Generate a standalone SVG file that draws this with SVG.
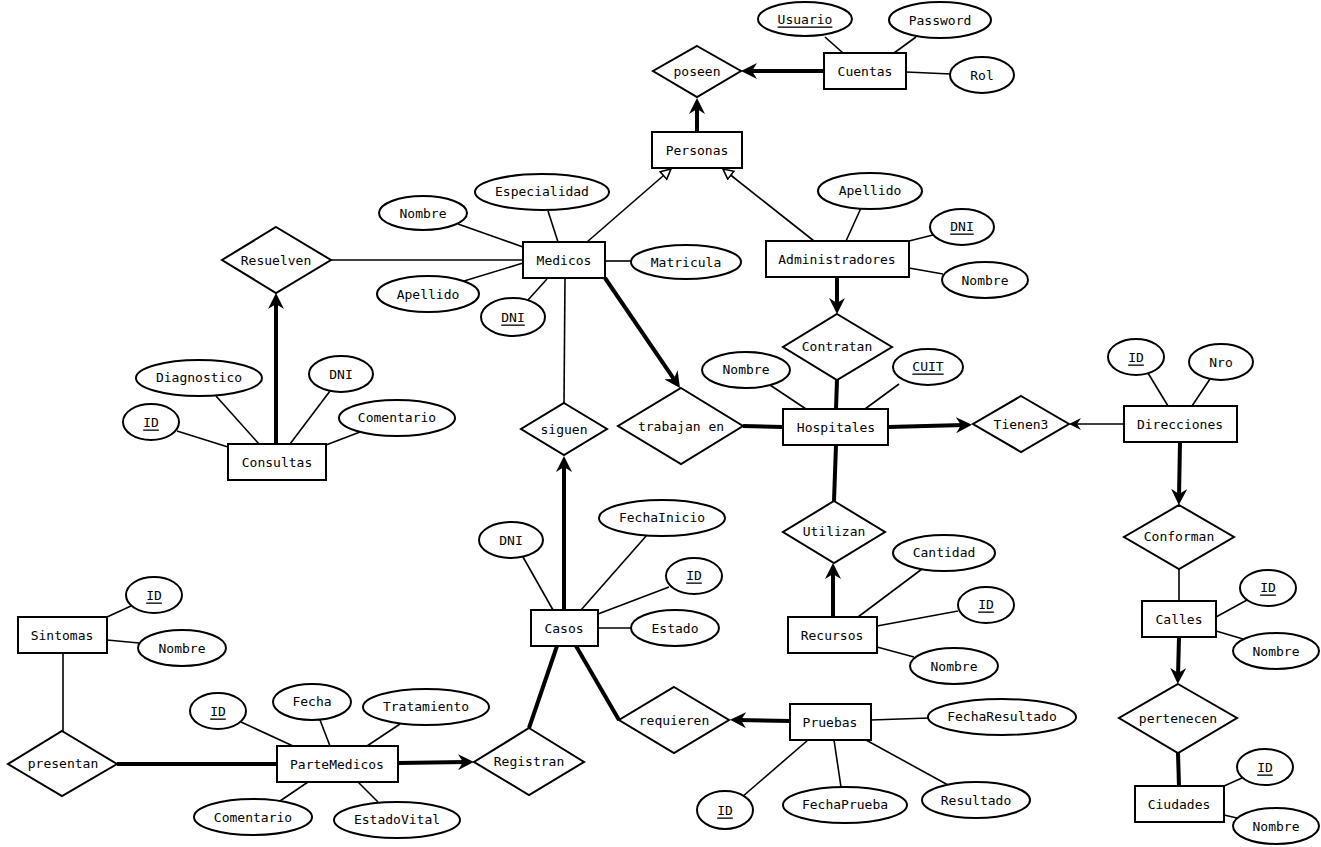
<svg xmlns="http://www.w3.org/2000/svg" width="1321" height="847" viewBox="0 0 1321 847">
<style>
text{font-family:"DejaVu Sans Mono",monospace;font-size:13px;text-anchor:middle;dominant-baseline:central;fill:#000}
.key{text-decoration:underline}
rect,ellipse,polygon.rel{fill:#fff;stroke:#000;stroke-width:2}
.thin{stroke:#000;stroke-width:1.6;fill:none}
.thick{stroke:#000;stroke-width:4;fill:none}
</style>
<defs>
<marker id="arr" markerUnits="userSpaceOnUse" markerWidth="16" markerHeight="16" viewBox="0 0 16 16" refX="8" refY="8" orient="auto"><path d="M0,0 L16,8 L0,16 L5,8 z" fill="#000"/></marker>
<marker id="arrs" markerUnits="userSpaceOnUse" markerWidth="12" markerHeight="12" viewBox="0 0 12 12" refX="6" refY="6" orient="auto"><path d="M0,0 L12,6 L0,12 L4,6 z" fill="#000"/></marker>
<marker id="inh" markerUnits="userSpaceOnUse" markerWidth="12" markerHeight="12" viewBox="0 0 12 12" refX="11" refY="6" orient="auto"><path d="M1,1 L11,6 L1,11 z" fill="#fff" stroke="#000" stroke-width="1.6"/></marker>
</defs>
<g id="connectors">
<!-- attribute lines -->
<line class="thin" x1="825" y1="37" x2="843" y2="53"/>
<line class="thin" x1="916" y1="37" x2="894" y2="53"/>
<line class="thin" x1="906" y1="72" x2="951" y2="74"/>
<line class="thin" x1="548" y1="211" x2="558" y2="242"/>
<line class="thin" x1="458" y1="224" x2="523" y2="247"/>
<line class="thin" x1="464" y1="281" x2="523" y2="263"/>
<line class="thin" x1="528" y1="300" x2="547" y2="279"/>
<line class="thin" x1="605" y1="261" x2="632" y2="261"/>
<line class="thin" x1="861" y1="208" x2="846" y2="241"/>
<line class="thin" x1="909" y1="241" x2="933" y2="235"/>
<line class="thin" x1="909" y1="268" x2="943" y2="274"/>
<line class="thin" x1="770" y1="385" x2="806" y2="409"/>
<line class="thin" x1="899" y1="384" x2="865" y2="409"/>
<line class="thin" x1="1148" y1="373" x2="1168" y2="406"/>
<line class="thin" x1="1210" y1="379" x2="1192" y2="406"/>
<line class="thin" x1="1216" y1="617" x2="1247" y2="600"/>
<line class="thin" x1="1216" y1="631" x2="1243" y2="639"/>
<line class="thin" x1="1224" y1="786" x2="1242" y2="778"/>
<line class="thin" x1="1224" y1="815" x2="1237" y2="818"/>
<line class="thin" x1="922" y1="569" x2="858" y2="617"/>
<line class="thin" x1="877" y1="626" x2="958" y2="611"/>
<line class="thin" x1="877" y1="647" x2="914" y2="657"/>
<line class="thin" x1="523" y1="557" x2="553" y2="610"/>
<line class="thin" x1="647" y1="535" x2="581" y2="610"/>
<line class="thin" x1="669" y1="587" x2="598" y2="614"/>
<line class="thin" x1="596" y1="628" x2="631" y2="628"/>
<line class="thin" x1="871" y1="720" x2="929" y2="718"/>
<line class="thin" x1="742" y1="797" x2="808" y2="740"/>
<line class="thin" x1="841" y1="787" x2="834" y2="740"/>
<line class="thin" x1="948" y1="785" x2="866" y2="740"/>
<line class="thin" x1="107" y1="617" x2="131" y2="606"/>
<line class="thin" x1="107" y1="640" x2="139" y2="643"/>
<line class="thin" x1="241" y1="722" x2="293" y2="746"/>
<line class="thin" x1="320" y1="720" x2="330" y2="746"/>
<line class="thin" x1="400" y1="724" x2="367" y2="746"/>
<line class="thin" x1="280" y1="801" x2="308" y2="782"/>
<line class="thin" x1="378" y1="802" x2="358" y2="782"/>
<line class="thin" x1="216" y1="396" x2="259" y2="444"/>
<line class="thin" x1="330" y1="391" x2="290" y2="444"/>
<line class="thin" x1="177" y1="431" x2="228" y2="447"/>
<line class="thin" x1="360" y1="432" x2="326" y2="445"/>
<!-- relationship lines -->
<line class="thin" x1="331" y1="260" x2="523" y2="260"/>
<line class="thin" x1="565" y1="278" x2="564" y2="403"/>
<line class="thin" x1="63" y1="653" x2="63" y2="731"/>
<line class="thin" x1="1179" y1="569" x2="1179" y2="601"/>
<line class="thin" x1="587" y1="242" x2="671" y2="169" marker-end="url(#inh)"/>
<line class="thin" x1="814" y1="241" x2="723" y2="169" marker-end="url(#inh)"/>
<line class="thin" x1="1124" y1="424" x2="1075" y2="424" marker-end="url(#arrs)"/>
<line class="thick" x1="837" y1="380" x2="836" y2="409"/>
<line class="thick" x1="783" y1="427" x2="743" y2="426"/>
<line class="thick" x1="836" y1="445" x2="834" y2="501"/>
<line class="thick" x1="1178" y1="753" x2="1179" y2="786"/>
<line class="thick" x1="557" y1="646" x2="529" y2="728"/>
<line class="thick" x1="576" y1="646" x2="619" y2="720"/>
<line class="thick" x1="117" y1="764" x2="277" y2="764"/>
<line class="thick" x1="824" y1="71" x2="749" y2="71" marker-end="url(#arr)"/>
<line class="thick" x1="697" y1="132" x2="697" y2="106" marker-end="url(#arr)"/>
<line class="thick" x1="276" y1="444" x2="276" y2="301" marker-end="url(#arr)"/>
<line class="thick" x1="605" y1="278" x2="675.5" y2="381.4" marker-end="url(#arr)"/>
<line class="thick" x1="837" y1="277" x2="837" y2="306" marker-end="url(#arr)"/>
<line class="thick" x1="888" y1="427" x2="964" y2="425" marker-end="url(#arr)"/>
<line class="thick" x1="1180" y1="442" x2="1179" y2="497" marker-end="url(#arr)"/>
<line class="thick" x1="1179" y1="637" x2="1178" y2="676" marker-end="url(#arr)"/>
<line class="thick" x1="833" y1="617" x2="833" y2="571" marker-end="url(#arr)"/>
<line class="thick" x1="564" y1="610" x2="564" y2="464" marker-end="url(#arr)"/>
<line class="thick" x1="790" y1="721" x2="738" y2="720" marker-end="url(#arr)"/>
<line class="thick" x1="398" y1="763" x2="466" y2="762" marker-end="url(#arr)"/>
</g>
<!-- entities -->
<g id="Cuentas"><rect x="824" y="53" width="82" height="36"/><text x="865" y="71">Cuentas</text></g>
<g id="Personas"><rect x="652" y="132" width="90" height="36"/><text x="697" y="150">Personas</text></g>
<g id="Medicos"><rect x="523" y="242" width="82" height="36"/><text x="564" y="260">Medicos</text></g>
<g id="Administradores"><rect x="766" y="241" width="143" height="36"/><text x="837" y="259">Administradores</text></g>
<g id="Hospitales"><rect x="783" y="409" width="105" height="36"/><text x="836" y="427">Hospitales</text></g>
<g id="Direcciones"><rect x="1124" y="406" width="113" height="36"/><text x="1180" y="424">Direcciones</text></g>
<g id="Calles"><rect x="1142" y="601" width="74" height="36"/><text x="1179" y="619">Calles</text></g>
<g id="Ciudades"><rect x="1135" y="786" width="89" height="36"/><text x="1179" y="804">Ciudades</text></g>
<g id="Consultas"><rect x="228" y="444" width="98" height="36"/><text x="277" y="462">Consultas</text></g>
<g id="Sintomas"><rect x="18" y="617" width="89" height="36"/><text x="62" y="635">Sintomas</text></g>
<g id="ParteMedicos"><rect x="277" y="746" width="121" height="36"/><text x="337" y="764">ParteMedicos</text></g>
<g id="Casos"><rect x="531" y="610" width="67" height="36"/><text x="564" y="628">Casos</text></g>
<g id="Recursos"><rect x="788" y="617" width="89" height="36"/><text x="832" y="635">Recursos</text></g>
<g id="Pruebas"><rect x="790" y="704" width="81" height="36"/><text x="830" y="722">Pruebas</text></g>
<!-- relationships -->
<g id="poseen"><polygon class="rel" points="697,46 741,71 697,97 653,71"/><text x="697" y="71">poseen</text></g>
<g id="Resuelven"><polygon class="rel" points="276,227 331,260 276,293 222,260"/><text x="276" y="260">Resuelven</text></g>
<g id="trabajan_en"><polygon class="rel" points="681,388 743,426 681,464 618,426"/><text x="681" y="426">trabajan en</text></g>
<g id="Contratan"><polygon class="rel" points="837,314 892,347 837,380 783,347"/><text x="837" y="346">Contratan</text></g>
<g id="Tienen3"><polygon class="rel" points="1021,396 1069,424 1021,452 973,424"/><text x="1021" y="424">Tienen3</text></g>
<g id="Conforman"><polygon class="rel" points="1179,505 1234,537 1179,569 1124,537"/><text x="1179" y="536">Conforman</text></g>
<g id="pertenecen"><polygon class="rel" points="1178,684 1237,718 1178,753 1119,718"/><text x="1178" y="718">pertenecen</text></g>
<g id="siguen"><polygon class="rel" points="564,403 607,429 564,455 521,429"/><text x="564" y="429">siguen</text></g>
<g id="Utilizan"><polygon class="rel" points="834,501 885,532 834,563 783,532"/><text x="834" y="531">Utilizan</text></g>
<g id="requieren"><polygon class="rel" points="674,687 729,720 674,753 619,720"/><text x="674" y="720">requieren</text></g>
<g id="Registran"><polygon class="rel" points="529,728 584,762 529,795 474,762"/><text x="529" y="761">Registran</text></g>
<g id="presentan"><polygon class="rel" points="62,731 117,764 62,796 8,764"/><text x="63" y="763">presentan</text></g>
<!-- attributes -->
<g id="a_Usuario"><ellipse cx="805" cy="19" rx="47" ry="17"/><text class="key" x="805" y="19">Usuario</text></g>
<g id="a_Password"><ellipse cx="940" cy="20" rx="51" ry="18"/><text x="940" y="20">Password</text></g>
<g id="a_Rol"><ellipse cx="982" cy="75" rx="32" ry="18"/><text x="982" y="75">Rol</text></g>
<g id="a_Especialidad"><ellipse cx="542" cy="192" rx="67" ry="18"/><text x="542" y="191">Especialidad</text></g>
<g id="a_NombreMed"><ellipse cx="423" cy="213" rx="44" ry="17"/><text x="423" y="213">Nombre</text></g>
<g id="a_Matricula"><ellipse cx="686" cy="262" rx="55" ry="17"/><text x="686" y="262">Matricula</text></g>
<g id="a_ApellidoMed"><ellipse cx="428" cy="294" rx="51" ry="18"/><text x="428" y="294">Apellido</text></g>
<g id="a_DNIMed"><ellipse cx="513" cy="317" rx="32" ry="19"/><text class="key" x="513" y="317">DNI</text></g>
<g id="a_Diagnostico"><ellipse cx="199" cy="378" rx="63" ry="18"/><text x="199" y="377">Diagnostico</text></g>
<g id="a_DNICons"><ellipse cx="341" cy="374" rx="32" ry="18"/><text x="341" y="374">DNI</text></g>
<g id="a_IDCons"><ellipse cx="151" cy="422" rx="28" ry="18"/><text class="key" x="151" y="422">ID</text></g>
<g id="a_ComentarioCons"><ellipse cx="397" cy="418" rx="58" ry="18"/><text x="397" y="417">Comentario</text></g>
<g id="a_ApellidoAdm"><ellipse cx="870" cy="191" rx="52" ry="18"/><text x="870" y="190">Apellido</text></g>
<g id="a_DNIAdm"><ellipse cx="962" cy="227" rx="32" ry="18"/><text class="key" x="962" y="226">DNI</text></g>
<g id="a_NombreAdm"><ellipse cx="985" cy="280" rx="43" ry="18"/><text x="985" y="280">Nombre</text></g>
<g id="a_NombreHosp"><ellipse cx="746" cy="370" rx="44" ry="18"/><text x="746" y="369">Nombre</text></g>
<g id="a_CUIT"><ellipse cx="928" cy="367" rx="35" ry="18"/><text class="key" x="928" y="366">CUIT</text></g>
<g id="a_IDDir"><ellipse cx="1136" cy="357" rx="28" ry="18"/><text class="key" x="1136" y="357">ID</text></g>
<g id="a_Nro"><ellipse cx="1221" cy="362" rx="32" ry="18"/><text x="1221" y="362">Nro</text></g>
<g id="a_IDCalles"><ellipse cx="1268" cy="588" rx="28" ry="18"/><text class="key" x="1268" y="587">ID</text></g>
<g id="a_NombreCalles"><ellipse cx="1276" cy="651" rx="43" ry="18"/><text x="1276" y="651">Nombre</text></g>
<g id="a_IDCiud"><ellipse cx="1265" cy="767" rx="28" ry="18"/><text class="key" x="1265" y="767">ID</text></g>
<g id="a_NombreCiud"><ellipse cx="1276" cy="826" rx="43" ry="18"/><text x="1276" y="826">Nombre</text></g>
<g id="a_IDSint"><ellipse cx="154" cy="595" rx="28" ry="18"/><text class="key" x="154" y="595">ID</text></g>
<g id="a_NombreSint"><ellipse cx="182" cy="648" rx="44" ry="18"/><text x="182" y="648">Nombre</text></g>
<g id="a_IDPM"><ellipse cx="218" cy="711" rx="28" ry="18"/><text class="key" x="218" y="711">ID</text></g>
<g id="a_Fecha"><ellipse cx="312" cy="702" rx="39" ry="18"/><text x="312" y="701">Fecha</text></g>
<g id="a_Tratamiento"><ellipse cx="426" cy="707" rx="63" ry="18"/><text x="426" y="706">Tratamiento</text></g>
<g id="a_ComentarioPM"><ellipse cx="253" cy="817" rx="59" ry="18"/><text x="253" y="817">Comentario</text></g>
<g id="a_EstadoVital"><ellipse cx="397" cy="820" rx="63" ry="18"/><text x="397" y="819">EstadoVital</text></g>
<g id="a_DNICasos"><ellipse cx="511" cy="540" rx="32" ry="18"/><text x="511" y="540">DNI</text></g>
<g id="a_FechaInicio"><ellipse cx="662" cy="518" rx="63" ry="18"/><text x="662" y="517">FechaInicio</text></g>
<g id="a_IDCasos"><ellipse cx="694" cy="576" rx="28" ry="18"/><text class="key" x="694" y="575">ID</text></g>
<g id="a_Estado"><ellipse cx="675" cy="628" rx="44" ry="18"/><text x="675" y="628">Estado</text></g>
<g id="a_Cantidad"><ellipse cx="944" cy="553" rx="51" ry="18"/><text x="944" y="552">Cantidad</text></g>
<g id="a_IDRec"><ellipse cx="986" cy="605" rx="28" ry="18"/><text class="key" x="986" y="604">ID</text></g>
<g id="a_NombreRec"><ellipse cx="954" cy="666" rx="44" ry="18"/><text x="954" y="666">Nombre</text></g>
<g id="a_FechaResultado"><ellipse cx="1002" cy="717" rx="74" ry="18"/><text x="1002" y="716">FechaResultado</text></g>
<g id="a_IDPru"><ellipse cx="725" cy="810" rx="28" ry="19"/><text class="key" x="725" y="810">ID</text></g>
<g id="a_FechaPrueba"><ellipse cx="845" cy="805" rx="62" ry="18"/><text x="845" y="804">FechaPrueba</text></g>
<g id="a_Resultado"><ellipse cx="976" cy="800" rx="54" ry="18"/><text x="976" y="800">Resultado</text></g>
</svg>
